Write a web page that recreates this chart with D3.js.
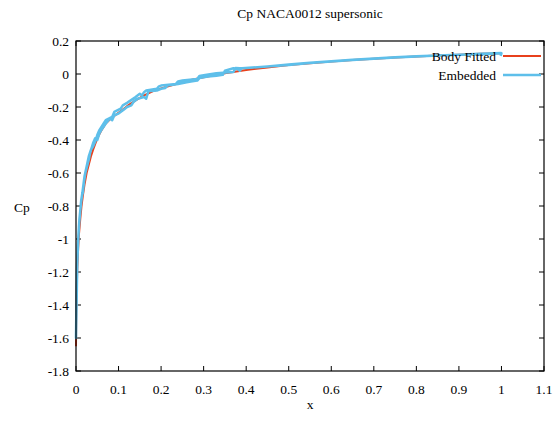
<!DOCTYPE html>
<html><head><meta charset="utf-8">
<script src="https://cdn.jsdelivr.net/npm/d3@7"></script>
<style>
body{margin:0;background:#fff;}
text{font-family:"Liberation Serif","Times New Roman",serif;fill:#000;}
</style></head>
<body><svg id="c" width="558" height="424"></svg>
<script>
const title = "Cp NACA0012 supersonic";
const xLabel = "x", yLabel = "Cp";
const xTicks = [0,0.1,0.2,0.3,0.4,0.5,0.6,0.7,0.8,0.9,1,1.1];
const yTicks = [0.2,0,-0.2,-0.4,-0.6,-0.8,-1,-1.2,-1.4,-1.6,-1.8];
const seriesNames = ["Body Fitted","Embedded"];

// Body fitted (smooth)
const bodyX  = [0,0.0005,0.001,0.002,0.003,0.005,0.007,0.01,0.013,0.016,0.02,0.025,0.03,0.035,0.04,0.05,0.06,0.07,0.08,0.09,0.1,0.12,0.14,0.16,0.18,0.2,0.225,0.25,0.275,0.3,0.35,0.4,0.45,0.5,0.55,0.6,0.65,0.7,0.75,0.8,0.85,0.9,0.95,1.0];
const bodyCp = [-1.65,-1.5,-1.4,-1.28,-1.18,-1.06,-0.97,-0.88,-0.8,-0.74,-0.67,-0.6,-0.55,-0.5,-0.46,-0.39,-0.34,-0.3,-0.275,-0.255,-0.235,-0.195,-0.16,-0.13,-0.105,-0.087,-0.068,-0.05,-0.033,-0.02,0.005,0.024,0.04,0.054,0.065,0.075,0.085,0.093,0.1,0.106,0.112,0.117,0.122,0.126];

// Embedded (upper surface TE->LE, then lower surface LE->TE)
const embX  = [1.0,0.95,0.9,0.85,0.8,0.75,0.7,0.65,0.6,0.55,0.5,0.45,0.4,0.385,0.375,0.37,0.33,0.3,0.29,0.285,0.25,0.24,0.235,0.2,0.195,0.19,0.165,0.16,0.155,0.15,0.14,0.12,0.11,0.105,0.09,0.085,0.07,0.065,0.055,0.05,0.045,0.04,0.035,0.03,0.025,0.02,0.018,0.015,0.012,0.01,0.007,0.005,0.003,0.002,0.001,0.0,
  0.0,0.002,0.004,0.008,0.012,0.014,0.016,0.019,0.022,0.027,0.03,0.033,0.04,0.045,0.05,0.055,0.062,0.07,0.08,0.085,0.09,0.1,0.115,0.12,0.13,0.135,0.145,0.16,0.165,0.17,0.19,0.2,0.21,0.215,0.24,0.26,0.27,0.285,0.29,0.31,0.33,0.345,0.35,0.37,0.38,0.385,0.39,0.45,0.5,0.55,0.6,0.65,0.7,0.75,0.8,0.85,0.9,0.95,1.0,0.998];
const embCp = [0.128,0.122,0.117,0.112,0.107,0.101,0.094,0.087,0.078,0.068,0.058,0.046,0.036,0.035,0.036,0.012,0.005,-0.008,-0.012,-0.03,-0.04,-0.045,-0.06,-0.07,-0.075,-0.09,-0.1,-0.11,-0.13,-0.12,-0.14,-0.175,-0.19,-0.21,-0.23,-0.26,-0.28,-0.3,-0.34,-0.37,-0.41,-0.44,-0.46,-0.5,-0.56,-0.62,-0.66,-0.72,-0.77,-0.83,-0.92,-1.02,-1.15,-1.3,-1.45,-1.58,
  -1.6,-1.2,-1.05,-0.88,-0.78,-0.74,-0.72,-0.65,-0.6,-0.55,-0.52,-0.48,-0.42,-0.39,-0.4,-0.36,-0.33,-0.3,-0.27,-0.28,-0.25,-0.24,-0.21,-0.2,-0.19,-0.17,-0.15,-0.14,-0.15,-0.105,-0.1,-0.09,-0.085,-0.07,-0.06,-0.05,-0.045,-0.04,-0.025,-0.015,-0.01,-0.005,0.02,0.035,0.03,0.02,0.035,0.045,0.055,0.066,0.075,0.085,0.093,0.1,0.106,0.112,0.116,0.12,0.125,0.11];

const colors = ["#e8401c","#5ebfea"];
const widths = [2,2.5];

const svg = d3.select("#c");
const L=76,R=544,T=41,B=371;
const fs = 13.5;
const x = d3.scaleLinear().domain([0,1.1]).range([L,R]);
const y = d3.scaleLinear().domain([-1.8,0.2]).range([B,T]);

// ticks (inward, mirrored)
const tl=5;
const g = svg.append("g");
xTicks.forEach(t=>{
  g.append("line").attr("x1",x(t)).attr("x2",x(t)).attr("y1",B).attr("y2",B-tl).attr("stroke","#000");
  g.append("line").attr("x1",x(t)).attr("x2",x(t)).attr("y1",T).attr("y2",T+tl).attr("stroke","#000");
  g.append("text").attr("x",x(t)).attr("y",B+23).attr("text-anchor","middle").attr("font-size",fs).text(d3.format("")(t));
});
yTicks.forEach(t=>{
  g.append("line").attr("x1",L).attr("x2",L+tl).attr("y1",y(t)).attr("y2",y(t)).attr("stroke","#000");
  g.append("line").attr("x1",R).attr("x2",R-tl).attr("y1",y(t)).attr("y2",y(t)).attr("stroke","#000");
  g.append("text").attr("x",L-7).attr("y",y(t)).attr("dy","0.35em").attr("text-anchor","end").attr("font-size",fs).text(d3.format("")(t).replace("\u2212","-"));
});

const line = d3.line().x(d=>x(d[0])).y(d=>y(d[1]));
const bodyData = bodyX.map((v,i)=>[v,bodyCp[i]]);
const embData = embX.map((v,i)=>[v,embCp[i]]);
svg.append("path").datum(bodyData).attr("d",line).attr("fill","none").attr("stroke",colors[0]).attr("stroke-width",widths[0]).attr("stroke-linejoin","round");
svg.append("path").datum(embData).attr("d",line).attr("fill","none").attr("stroke",colors[1]).attr("stroke-width",widths[1]).attr("stroke-linejoin","round");

// frame
svg.append("rect").attr("x",L).attr("y",T).attr("width",R-L).attr("height",B-T).attr("fill","none").attr("stroke","#000").attr("stroke-width",1.2);

// legend
seriesNames.forEach((n,i)=>{
  const ly = 56 + i*19;
  svg.append("text").attr("x",496).attr("y",ly).attr("dy","0.35em").attr("text-anchor","end").attr("font-size",fs).text(n);
  svg.append("line").attr("x1",503).attr("x2",541).attr("y1",ly).attr("y2",ly).attr("stroke",colors[i]).attr("stroke-width",widths[i]);
});

svg.append("text").attr("x",310).attr("y",18).attr("text-anchor","middle").attr("font-size",fs).text(title);
svg.append("text").attr("x",310).attr("y",409).attr("text-anchor","middle").attr("font-size",fs).text(xLabel);
svg.append("text").attr("x",22).attr("y",207).attr("dy","0.35em").attr("text-anchor","middle").attr("font-size",fs).text(yLabel);
</script></body></html>
